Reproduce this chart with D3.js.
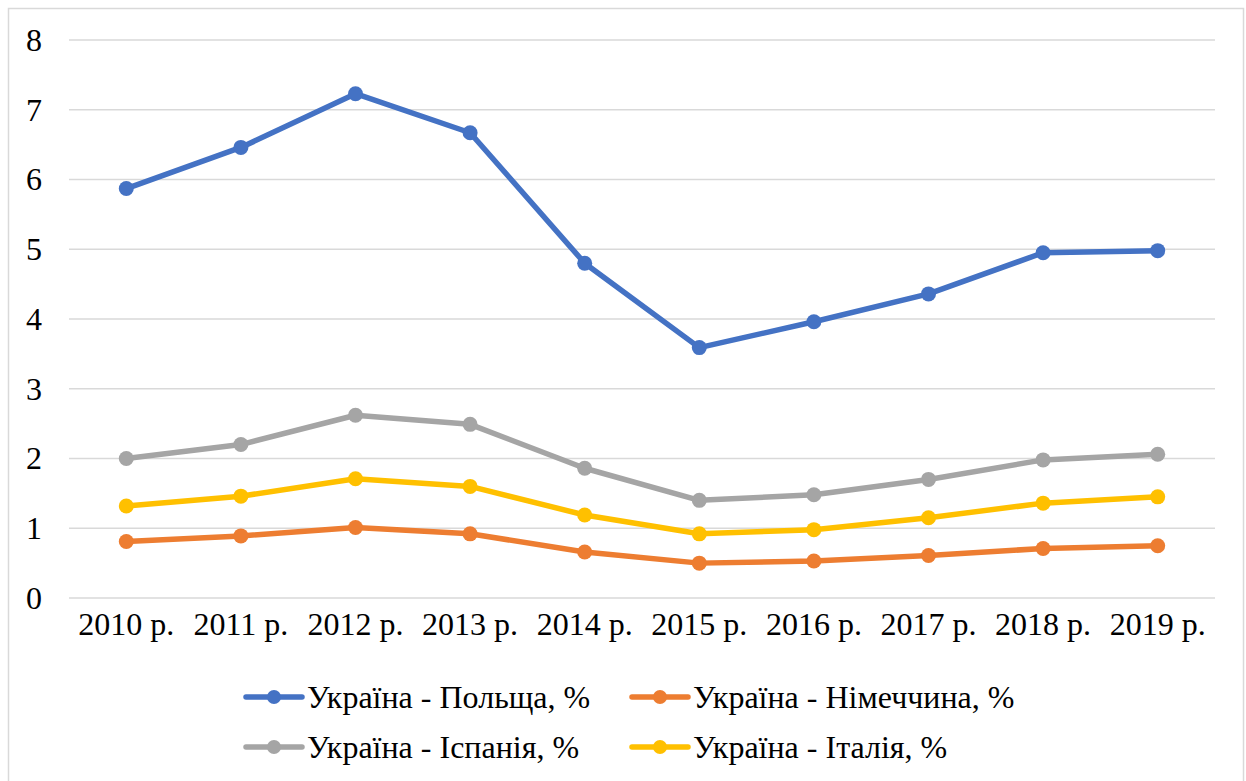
<!DOCTYPE html>
<html>
<head>
<meta charset="utf-8">
<script src="https://cdn.jsdelivr.net/npm/d3@7"></script>
<style>
	body { margin: 0; background: #fff; }
	svg text { font-family: "Liberation Serif", "Times New Roman", serif !important; fill: #000; }
</style>
</head>
<body>
<svg id="chart" width="1246" height="781"></svg>
<script>
var years = ['2010 р.', '2011 р.', '2012 р.', '2013 р.', '2014 р.', '2015 р.', '2016 р.', '2017 р.', '2018 р.', '2019 р.'];
var yTicks = [0, 1, 2, 3, 4, 5, 6, 7, 8];

var poland = [5.87, 6.46, 7.23, 6.67, 4.80, 3.59, 3.96, 4.36, 4.95, 4.98];
var germany = [0.81, 0.89, 1.01, 0.92, 0.66, 0.50, 0.53, 0.61, 0.71, 0.75];
var spain = [2.00, 2.20, 2.62, 2.49, 1.86, 1.40, 1.48, 1.70, 1.98, 2.06];
var italy = [1.32, 1.46, 1.71, 1.60, 1.19, 0.92, 0.98, 1.15, 1.36, 1.45];

var seriesNames = ['Україна - Польща, %', 'Україна - Німеччина, %', 'Україна - Іспанія, %', 'Україна - Італія, %'];
var seriesColors = ['#4472C4', '#ED7D31', '#A5A5A5', '#FFC000'];

var series = [poland, germany, spain, italy].map(function (vals, i) {
	return { name: seriesNames[i], color: seriesColors[i], values: vals };
});

var svg = d3.select('#chart');

// outer chart border
svg.append('rect')
	.attr('x', 8.5).attr('y', 8.5)
	.attr('width', 1235).attr('height', 790)
	.attr('fill', 'none')
	.attr('stroke', '#D9D9D9')
	.attr('stroke-width', 1.5);

var x = d3.scaleBand().domain(years).range([69, 1215]);
var y = d3.scaleLinear().domain([0, 8]).range([598, 40]);

// gridlines
svg.append('g')
	.selectAll('line')
	.data(yTicks)
	.enter()
	.append('line')
	.attr('x1', 69).attr('x2', 1215)
	.attr('y1', function (d) { return y(d); })
	.attr('y2', function (d) { return y(d); })
	.attr('stroke', '#D9D9D9')
	.attr('stroke-width', 1.5);

// y labels
var yAxis = svg.append('g')
	.attr('transform', 'translate(42,0)')
	.call(d3.axisLeft(y).tickValues(yTicks).tickSize(0).tickPadding(0));
yAxis.attr('font-family', null).attr('font-size', null);
yAxis.select('.domain').remove();
yAxis.selectAll('text')
	.style('font-size', '32px')
	.attr('fill', '#000');

// x labels
var xAxis = svg.append('g')
	.attr('transform', 'translate(0,' + 612 + ')')
	.call(d3.axisBottom(x).tickSize(0).tickPadding(0));
xAxis.attr('font-family', null).attr('font-size', null);
xAxis.select('.domain').remove();
xAxis.selectAll('text')
	.style('font-size', '32px')
	.attr('fill', '#000');

var line = d3.line()
	.x(function (d, i) { return x(years[i]) + x.bandwidth() / 2; })
	.y(function (d) { return y(d); });

var groups = svg.append('g')
	.selectAll('.series')
	.data(series)
	.enter()
	.append('g')
	.attr('class', 'series');

groups.append('path')
	.attr('d', function (d) { return line(d.values); })
	.attr('fill', 'none')
	.attr('stroke', function (d) { return d.color; })
	.attr('stroke-width', 5.5)
	.attr('stroke-linejoin', 'round');

groups.each(function (s) {
	d3.select(this).selectAll('circle')
		.data(s.values)
		.enter()
		.append('circle')
		.attr('cx', function (d, i) { return x(years[i]) + x.bandwidth() / 2; })
		.attr('cy', function (d) { return y(d); })
		.attr('r', 7.5)
		.attr('fill', s.color);
});

// legend
var legendPos = [[246, 697], [632, 697], [246, 747], [632, 747]];
var legend = svg.append('g')
	.selectAll('.legend')
	.data(series)
	.enter()
	.append('g')
	.attr('class', 'legend')
	.attr('transform', function (d, i) {
		return 'translate(' + legendPos[i][0] + ',' + legendPos[i][1] + ')';
	});

legend.append('line')
	.attr('x1', 0).attr('x2', 56)
	.attr('y1', 0).attr('y2', 0)
	.attr('stroke', function (d) { return d.color; })
	.attr('stroke-width', 5.5)
	.attr('stroke-linecap', 'round');

legend.append('circle')
	.attr('cx', 28).attr('cy', 0)
	.attr('r', 7)
	.attr('fill', function (d) { return d.color; });

legend.append('text')
	.attr('x', 61)
	.attr('y', 0)
	.attr('dy', '0.35em')
	.style('font-size', '32px')
	.text(function (d) { return d.name; });
</script>
</body>
</html>
